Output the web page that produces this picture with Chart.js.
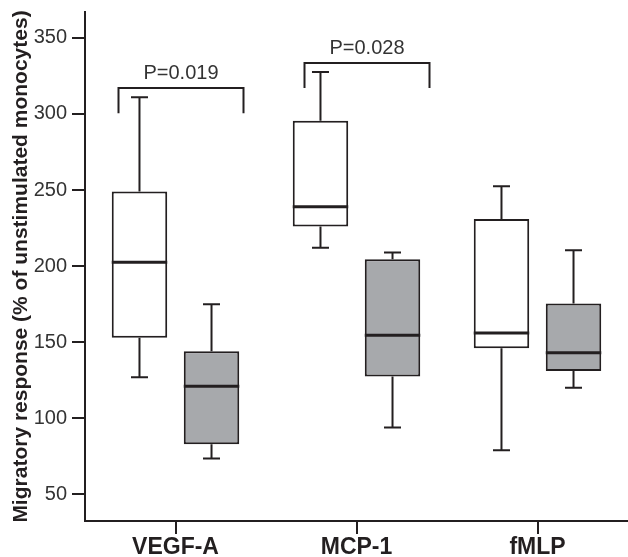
<!DOCTYPE html>
<html>
<head>
<meta charset="utf-8">
<script src="https://cdn.jsdelivr.net/npm/chart.js@4"></script>
<style>
  html, body { margin: 0; padding: 0; background: #fff; }
  #wrap { width: 628px; height: 557px; position: relative; }
</style>
</head>
<body>
<div id="wrap"><canvas id="chart"></canvas></div>
<script>
// ============== Data ==============
const categories = ["VEGF-A", "MCP-1", "fMLP"];

// open boxes
const whiteMin    = [127, 212, 79];
const whiteQ1     = [153, 226, 146];
const whiteMedian = [202.5, 239, 156];
const whiteQ3     = [249, 295.5, 231];
const whiteMax    = [311, 327.5, 252.5];

// grey boxes
const grayMin    = [73.5, 94, 120];
const grayQ1     = [83, 127.5, 131];
const grayMedian = [121, 154.5, 143];
const grayQ3     = [144, 204.5, 175.5];
const grayMax    = [175, 209, 210.5];

const yTicks = [50, 100, 150, 200, 250, 300, 350];

// significance brackets
const pLabels     = ["P=0.019", "P=0.028"];
const pCategory   = [0, 1];
const pBarValue   = [317, 333.5];
const pLegValue   = [300.5, 317];

const INK = "#231f20";
const GREY = "#a7a9ac";
const FONT = "'Liberation Sans', Arial, sans-serif";

// ============== Box-plot extras: whiskers, medians, brackets ==============
const boxExtras = {
  id: "boxExtras",
  afterDatasetsDraw(chart) {
    const ctx = chart.ctx;
    const y = chart.scales.y;
    const x = chart.scales.x;
    const stats = [
      { min: whiteMin, med: whiteMedian, q1: whiteQ1, q3: whiteQ3, max: whiteMax },
      { min: grayMin, med: grayMedian, q1: grayQ1, q3: grayQ3, max: grayMax },
    ];
    ctx.save();
    ctx.strokeStyle = INK;
    ctx.lineCap = "butt";
    stats.forEach((s, di) => {
      chart.getDatasetMeta(di).data.forEach((bar, i) => {
        const cx = bar.x;
        const half = bar.width / 2;
        const cap = 8.5;
        // whiskers
        ctx.lineWidth = 2;
        ctx.beginPath();
        ctx.moveTo(cx, y.getPixelForValue(s.q3[i]));
        ctx.lineTo(cx, y.getPixelForValue(s.max[i]));
        ctx.moveTo(cx - cap, y.getPixelForValue(s.max[i]));
        ctx.lineTo(cx + cap, y.getPixelForValue(s.max[i]));
        ctx.moveTo(cx, y.getPixelForValue(s.q1[i]));
        ctx.lineTo(cx, y.getPixelForValue(s.min[i]));
        ctx.moveTo(cx - cap, y.getPixelForValue(s.min[i]));
        ctx.lineTo(cx + cap, y.getPixelForValue(s.min[i]));
        ctx.stroke();
        // median
        ctx.lineWidth = 3;
        ctx.beginPath();
        ctx.moveTo(cx - half, y.getPixelForValue(s.med[i]));
        ctx.lineTo(cx + half, y.getPixelForValue(s.med[i]));
        ctx.stroke();
      });
    });

    // brackets
    const legs = [[-57, 68], [-52, 73]];
    ctx.lineWidth = 2;
    ctx.fillStyle = "#333333";
    ctx.font = "20px " + FONT;
    ctx.textAlign = "center";
    ctx.textBaseline = "alphabetic";
    pLabels.forEach((txt, k) => {
      const c = x.getPixelForValue(pCategory[k]);
      const xl = c + legs[k][0];
      const xr = c + legs[k][1];
      const yb = y.getPixelForValue(pBarValue[k]);
      const yl = y.getPixelForValue(pLegValue[k]);
      ctx.beginPath();
      ctx.moveTo(xl, yl);
      ctx.lineTo(xl, yb);
      ctx.lineTo(xr, yb);
      ctx.lineTo(xr, yl);
      ctx.stroke();
      ctx.fillText(txt, (xl + xr) / 2, yb - 9);
    });
    ctx.restore();
  }
};

// ============== Chart ==============
const boxBar = (q1, q3) => categories.map((c, i) => [q1[i], q3[i]]);

new Chart(document.getElementById("chart").getContext("2d"), {
  type: "bar",
  data: {
    labels: categories,
    datasets: [
      {
        data: boxBar(whiteQ1, whiteQ3),
        backgroundColor: "#ffffff",
        borderColor: INK,
        borderWidth: 2,
        borderSkipped: false,
        categoryPercentage: 0.796,
        barPercentage: 0.77,
      },
      {
        data: boxBar(grayQ1, grayQ3),
        backgroundColor: GREY,
        borderColor: INK,
        borderWidth: 2,
        borderSkipped: false,
        categoryPercentage: 0.796,
        barPercentage: 0.77,
      }
    ]
  },
  options: {
    responsive: true,
    maintainAspectRatio: false,
    animation: false,
    layout: { padding: { top: 12, right: 0, left: 0, bottom: 0 } },
    plugins: {
      legend: { display: false },
      tooltip: { enabled: false },
    },
    scales: {
      x: {
        offset: true,
        border: { color: INK, width: 2 },
        grid: { offset: false, drawOnChartArea: false, drawTicks: true, tickLength: 13, color: INK, lineWidth: 2 },
        ticks: {
          color: INK,
          padding: 0,
          font: { family: FONT, size: 23, weight: "bold" },
        },
        afterFit: (scale) => { scale.height = 36; },
      },
      y: {
        min: 32.5,
        max: 367,
        border: { color: INK, width: 2 },
        grid: { drawOnChartArea: false, drawTicks: true, tickLength: 13, color: INK, lineWidth: 2 },
        afterBuildTicks: (scale) => { scale.ticks = yTicks.map(v => ({ value: v })); },
        ticks: {
          color: "#333333",
          padding: 5,
          font: { family: FONT, size: 20 },
        },
        title: {
          display: true,
          text: "Migratory response (% of unstimulated monocytes)",
          color: INK,
          padding: { top: 9, bottom: 0 },
          font: { family: FONT, size: 21, weight: "bold" },
        },
        afterFit: (scale) => {
          scale.width = 85;
          scale.paddingTop = 0;
          scale.paddingBottom = 0;
        },
      }
    }
  },
  plugins: [boxExtras]
});
</script>
</body>
</html>
